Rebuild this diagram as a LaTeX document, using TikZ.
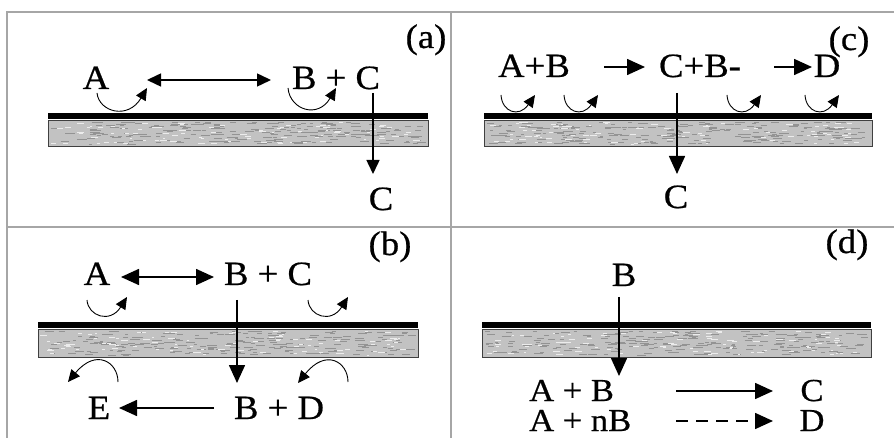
\documentclass[tikz,border=0pt]{standalone}
\usepackage{fontspec}
\setmainfont[FakeStretch=1.08,FakeBold=0.6]{Liberation Serif}
\usetikzlibrary{arrows.meta}

% membrane: black skin on top of a mottled grey support layer
% #1,#2 = left/right x, #3 = top y, #4 = bottom y
\newcommand\membranebar[4]{%
  \fill[black] (#1,#3) rectangle (#2,#3+6);
  \filldraw[fill=gray!48,draw=gray!50!black,line width=0.6pt] (#1,#3+7) rectangle (#2,#4);
  \foreach \k in {1,...,220}{%
    \pgfmathsetmacro\xx{#1+2+rnd*(#2-#1-12)}%
    \pgfmathsetmacro\yy{#3+9+rnd*(#4-#3-11)}%
    \pgfmathsetmacro\ll{3+rnd*7}%
    \draw[gray!85,line width=0.6pt] (\xx,\yy) -- ++(\ll,0);
  }%
  \foreach \k in {1,...,90}{%
    \pgfmathsetmacro\xx{#1+2+rnd*(#2-#1-12)}%
    \pgfmathsetmacro\yy{#3+9+rnd*(#4-#3-11)}%
    \pgfmathsetmacro\ll{2+rnd*5}%
    \draw[gray!15,line width=0.6pt] (\xx,\yy) -- ++(\ll,0);
  }%
}

\begin{document}
\begin{tikzpicture}[x=1pt,y=-1pt,
  lbl/.style={anchor=base,inner sep=0pt,text height=23pt,text depth=1pt,
    font=\fontsize{34}{40}\selectfont},
  lblsm/.style={lbl,font=\fontsize{32}{36}\selectfont},
  frameline/.style={draw=gray!70,line width=1.3pt},
  rxn/.style={line width=1.6pt,-{Triangle[length=18pt,width=16pt]}},
  rxnsmall/.style={line width=1.5pt,-{Triangle[length=14pt,width=13pt]}},
  rxnboth/.style={line width=1.6pt,{Triangle[length=18pt,width=16pt]}-{Triangle[length=18pt,width=16pt]}},
  rxnbothsmall/.style={line width=1.5pt,{Triangle[length=14pt,width=13pt]}-{Triangle[length=14pt,width=13pt]}},
  hop/.style={line width=0.9pt,-{Triangle[length=12pt,width=11pt]}},
]
\useasboundingbox (0,0) rectangle (894,438);
\fill[white] (0,0) rectangle (894,438);
\pgfmathsetseed{4217}

% panel frame
\draw[frameline] (894,12) -- (7,12) -- (7,438);
\draw[frameline] (451,12) -- (451,438);
\draw[frameline] (7,227) -- (894,227);

% membranes
\membranebar{48}{428}{113}{146}
\membranebar{484}{872}{113}{146}
\membranebar{38}{418}{322}{357}
\membranebar{482}{871}{322}{357}

% ---------- (a) ----------
\node[lbl] (pa) at (426,48) {(a)};
\node[lbl] (aA) at (96,89) {A};
\node[lbl] (aBC) at (336,89) {B + C};
\node[lbl] (aC) at (381,210) {C};
\coordinate (a1) at (147,80);
\coordinate (a2) at (271,80);
\coordinate (a3) at (373,93);
\coordinate (a4) at (373,174);
\draw[rxnbothsmall] (a1) -- (a2);
\draw[rxnsmall] (a3) -- (a4);
\draw[hop] (97,93) .. controls (99,112) and (128,120) .. (147,88);
\draw[hop] (288,88) .. controls (290,110) and (318,119) .. (336,88);

% ---------- (c) ----------
\node[lbl] (pc) at (849,50) {(c)};
\node[lbl] (cAB) at (534,77) {A+B};
\node[lbl] (cCB) at (700,77) {C+B-};
\node[lbl] (cD) at (827,77) {D};
\node[lbl] (cC) at (676,208) {C};
\coordinate (c1) at (604,67);
\coordinate (c2) at (645,67);
\coordinate (c3) at (774,67);
\coordinate (c4) at (812,67);
\coordinate (c5) at (677,93);
\coordinate (c6) at (677,174);
\draw[rxn] (c1) -- (c2);
\draw[rxn] (c3) -- (c4);
\draw[rxn] (c5) -- (c6);
\foreach \s in {501,564,727,805}
  \draw[hop] (\s,95) .. controls (\s+1,112) and (\s+18,118) .. (\s+34,95);

% ---------- (b) ----------
\node[lbl] (pb) at (390,255) {(b)};
\node[lbl] (bA) at (97,285) {A};
\node[lbl] (bBC) at (268,285) {B + C};
\node[lbl] (bE) at (99,419) {E};
\node[lbl] (bBD) at (279,419) {B + D};
\coordinate (b1) at (121,277);
\coordinate (b2) at (214,277);
\coordinate (b3) at (237,300);
\coordinate (b4) at (237,383);
\coordinate (b5) at (214,408);
\coordinate (b6) at (119,408);
\draw[rxnboth] (b1) -- (b2);
\draw[rxn] (b3) -- (b4);
\draw[rxn] (b5) -- (b6);
\draw[hop] (87,300) .. controls (88,316) and (110,324) .. (127,297);
\draw[hop] (308,300) .. controls (309,316) and (331,324) .. (348,297);
\draw[hop] (118,382) .. controls (118,362) and (96,348) .. (68,382);
\draw[hop] (348,382) .. controls (348,362) and (326,348) .. (298,383);

% ---------- (d) ----------
\node[lbl] (pd) at (847,253) {(d)};
\node[lbl] (dB) at (624,286) {B};
\node[lblsm,anchor=base west] (dAB) at (529,401) {A + B};
\node[lblsm,anchor=base west] (dAnB) at (529,431) {A + nB};
\node[lblsm] (dC) at (812,401) {C};
\node[lblsm] (dD) at (812,431) {D};
\coordinate (d1) at (619,297);
\coordinate (d2) at (619,376);
\coordinate (d3) at (676,391);
\coordinate (d4) at (773,391);
\coordinate (d5) at (676,421);
\coordinate (d6) at (773,421);
\draw[rxn] (d1) -- (d2);
\draw[rxn] (d3) -- (d4);
\draw[rxn,dash pattern=on 12pt off 8pt] (d5) -- (d6);
\end{tikzpicture}
\end{document}
